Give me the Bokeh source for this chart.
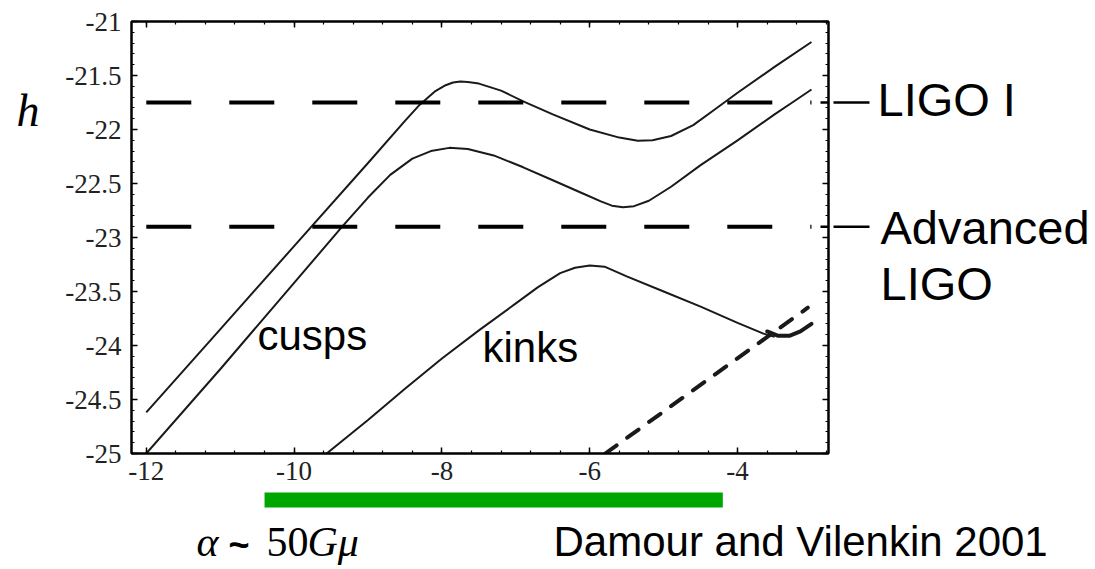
from bokeh.plotting import figure
from bokeh.layouts import row, column
from bokeh.models import (Range1d, LinearAxis, Label, SingleIntervalTicker,
                          CustomJSTickFormatter)
from bokeh.embed import file_html
from bokeh.resources import INLINE

# ---- data ----
cusp_upper_x = [-12, -11, -10, -9, -8.5, -8.3, -8.1, -7.95, -7.85, -7.75, -7.65, -7.5, -7.2, -6.9,
                -6.5, -6.0, -5.6, -5.35, -5.15, -4.9, -4.6, -4.3, -4.0, -3.5, -3.0]
cusp_upper_y = [-24.62, -23.85, -23.08, -22.31, -21.92, -21.77, -21.65, -21.59, -21.565, -21.555,
                -21.56, -21.575, -21.64, -21.74, -21.86, -22.00, -22.075, -22.105, -22.10,
                -22.06, -21.96, -21.81, -21.66, -21.42, -21.19]
cusp_lower_x = [-12, -11, -10, -9.35, -9.0, -8.7, -8.4, -8.15, -7.9, -7.65, -7.3, -6.9, -6.5, -6.1,
                -5.85, -5.7, -5.55, -5.4, -5.2, -4.9, -4.5, -4.0, -3.5, -3.26, -3.0]
cusp_lower_y = [-25.0, -24.22, -23.42, -22.9, -22.63, -22.42, -22.27, -22.2, -22.17, -22.18,
                -22.24, -22.35, -22.47, -22.59, -22.665, -22.705, -22.72, -22.71, -22.66, -22.53,
                -22.33, -22.1, -21.86, -21.75, -21.63]
kink_x = [-9.56, -9.0, -8.5, -8.0, -7.5, -7.0, -6.7, -6.4, -6.2, -6.0, -5.8, -5.5, -5.0, -4.5,
          -4.0, -3.65, -3.5]
kink_y = [-25.0, -24.69, -24.40, -24.12, -23.86, -23.61, -23.46, -23.33, -23.28, -23.26, -23.27,
          -23.36, -23.50, -23.64, -23.79, -23.89, -23.92]
hook_x = [-3.6, -3.45, -3.3, -3.15, -3.0]
hook_y = [-23.87, -23.91, -23.91, -23.87, -23.80]
diag_x = [-5.79, -3.05]
diag_y = [-25.0, -23.65]
ligo1_level = -21.75
adv_ligo_level = -22.9
sens_x = [-12, -3.0]
alpha_range = [-10.4, -4.2]

x_major_tick_step = 2
y_major_tick_step = 0.5

# ---- geometry (pixels of the 1095x569 page) ----
W, H = 1095, 569
LEFT_W = 60          # strip holding the "h" label
MAIN_W = 773         # main plot (frame from x=131 to x=828)
RIGHT_W = W - LEFT_W - MAIN_W
TOP_H = 492
BOT_H = H - TOP_H
FR_L, FR_R, FR_T, FR_B = 131, 828, 21, 453
XMIN, XMAX = -12.2, -2.77
PX_PER_X = (FR_R - FR_L) / (XMAX - XMIN)
BASE_SHIFT = 0.4     # empirical correction of the alphabetic baseline

def dy(py):
    return -21 - (py - FR_T) / 108.0

def px2x(px):
    return XMIN + (px - FR_L) / PX_PER_X

xr = Range1d(XMIN, XMAX)
yr = Range1d(-25, -21)

p = figure(width=MAIN_W, height=TOP_H, x_range=xr, y_range=yr,
           output_backend="svg", toolbar_location=None,
           min_border_left=FR_L - LEFT_W, min_border_right=LEFT_W + MAIN_W - FR_R,
           min_border_top=FR_T, min_border_bottom=TOP_H - FR_B)
p.xgrid.visible = False
p.ygrid.visible = False
p.outline_line_color = "black"
p.outline_line_width = 2
p.background_fill_color = "white"
p.border_fill_color = "white"

fmt = "return tick.toString()"

def style_axis(ax, labels=True):
    ax.axis_line_color = "black"
    ax.axis_line_width = 2
    ax.major_tick_in = 6
    ax.major_tick_out = 0
    ax.minor_tick_in = 3
    ax.minor_tick_out = 0
    ax.major_tick_line_color = "black"
    ax.minor_tick_line_color = "black"
    ax.major_tick_line_width = 1.5
    ax.minor_tick_line_width = 1.2
    ax.major_label_text_font = "Liberation Serif"
    ax.major_label_text_font_size = "27px"
    ax.major_label_text_color = "#222222"
    ax.formatter = CustomJSTickFormatter(code=fmt)
    if not labels:
        ax.major_label_text_font_size = "0px"
        ax.major_label_text_alpha = 0
        ax.major_label_standoff = 0

p.xaxis.ticker = SingleIntervalTicker(interval=x_major_tick_step, num_minor_ticks=5)
p.yaxis.ticker = SingleIntervalTicker(interval=y_major_tick_step, num_minor_ticks=5)
style_axis(p.xaxis[0])
style_axis(p.yaxis[0])
p.xaxis.major_label_standoff = 8
p.yaxis.major_label_standoff = 10

top = LinearAxis(ticker=SingleIntervalTicker(interval=x_major_tick_step, num_minor_ticks=5))
style_axis(top, labels=False)
p.add_layout(top, "above")
right = LinearAxis(ticker=SingleIntervalTicker(interval=y_major_tick_step, num_minor_ticks=5))
style_axis(right, labels=False)
p.add_layout(right, "right")

# curves
for xs, ys in [(cusp_upper_x, cusp_upper_y), (cusp_lower_x, cusp_lower_y), (kink_x, kink_y)]:
    p.line(xs, ys, line_color="#1a1a1a", line_width=2, line_join="round")
p.line(hook_x, hook_y, line_color="#1a1a1a", line_width=4, line_join="round", line_cap="round")
p.line(diag_x, diag_y, line_color="#1a1a1a", line_width=4, line_dash="14 13", line_cap="round")

# sensitivity levels (dashed) and start of the marker lines to their labels
marker_start_x = px2x(820)
for lvl in [ligo1_level, adv_ligo_level]:
    p.line(sens_x, [lvl, lvl], line_color="black", line_width=4, line_dash="45 38")
    p.line([marker_start_x, XMAX + 1], [lvl, lvl], line_color="black", line_width=2.5)

def add_label(fig, text, x, y, font="Liberation Sans", size=42, style="normal"):
    fig.add_layout(Label(x=x, y=y, text=text, text_font=font, text_font_size=f"{size}px",
                         text_font_style=style, text_color="black",
                         text_baseline="alphabetic", text_align="left"))

def main_label(fig, text, px, py, size=42, **kw):
    add_label(fig, text, px2x(px), dy(py - BASE_SHIFT * size), size=size, **kw)

main_label(p, "cusps", 257, 352)
main_label(p, "kinks", 482, 364)

def blank_fig(w, h, x_range, y_range, top=0, bottom=0):
    f = figure(width=w, height=h, x_range=x_range, y_range=y_range,
               x_axis_type=None, y_axis_type=None, output_backend="svg",
               toolbar_location=None, min_border=0)
    f.min_border_top = top
    f.min_border_bottom = bottom
    f.outline_line_color = None
    f.xgrid.visible = False
    f.ygrid.visible = False
    f.background_fill_color = "white"
    f.border_fill_color = "white"
    return f

# left strip: "h"
left = blank_fig(LEFT_W, TOP_H, Range1d(0, LEFT_W), yr, top=FR_T, bottom=TOP_H - FR_B)
add_label(left, "h", 16, dy(128 - BASE_SHIFT * 46), font="Liberation Serif", size=46,
          style="italic")

# right strip: detector labels
rx0 = LEFT_W + MAIN_W
rfig = blank_fig(RIGHT_W, TOP_H, Range1d(rx0, W), yr, top=FR_T, bottom=TOP_H - FR_B)
for lvl in [ligo1_level, adv_ligo_level]:
    rfig.line([rx0 - 5, 869], [lvl, lvl], line_color="black", line_width=2.5)
for text, px, py in [("LIGO I", 877, 118), ("Advanced", 880, 246), ("LIGO", 880, 302)]:
    add_label(rfig, text, px, dy(py - BASE_SHIFT * 47), size=47)

# bottom strip: alpha range bar and captions (x in data units of the main plot)
bfig = blank_fig(W, BOT_H, Range1d(px2x(0), px2x(W)), Range1d(H, TOP_H))
bfig.quad(left=alpha_range[0], right=alpha_range[1], top=491, bottom=507,
          fill_color="#00a600", line_color=None)

def bot_label(text, px, py, size=42, **kw):
    add_label(bfig, text, px2x(px), py - BASE_SHIFT * size, size=size, **kw)

bot_label("Damour and Vilenkin 2001", 553, 558)
bot_label("α", 196, 558, font="Liberation Serif", style="italic")
bot_label("~", 228, 558, size=36, font="Liberation Sans", style="bold")
bot_label("50", 266, 558, font="Liberation Serif")
bot_label("Gμ", 307, 558, font="Liberation Serif", style="italic")

layout = column(row(left, p, rfig, spacing=0), bfig, spacing=0)
open("out.html", "w").write(file_html(layout, INLINE))
